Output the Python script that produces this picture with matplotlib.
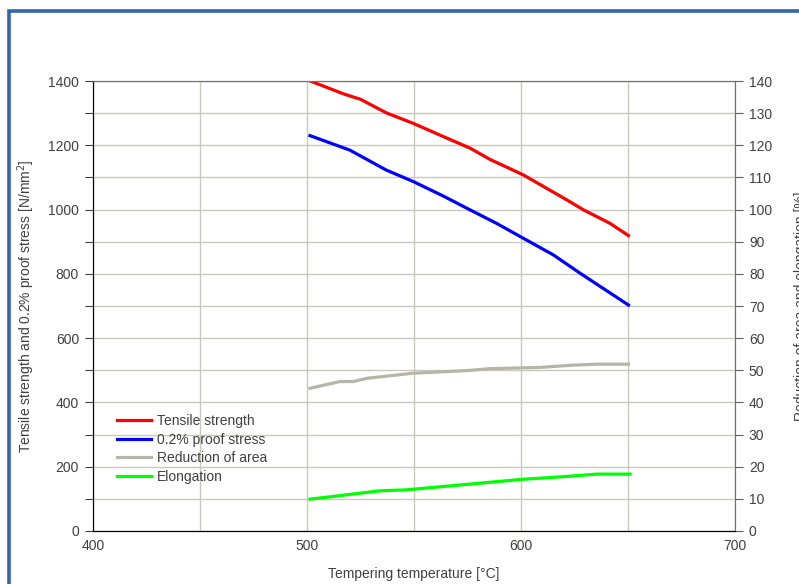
import numpy as np
import matplotlib.pyplot as plt
from matplotlib.patches import Rectangle
from matplotlib.ticker import MultipleLocator

plt.rcParams['font.family'] = ['Liberation Sans', 'DejaVu Sans']

# data
t_tensile = [501.5, 517, 525, 537, 549.7, 563.7, 576.2, 585.5, 601, 621.4, 629.2, 641.6, 650.2]
tensile = [1400, 1360, 1343, 1301, 1268, 1227, 1191, 1156, 1108, 1030, 999, 957, 919]

t_proof = [501.4, 520, 537, 549.7, 563.7, 576.2, 588.6, 601, 615.1, 627.6, 650.2]
proof = [1230, 1185, 1123, 1087, 1042, 999, 957, 911, 859, 802, 703]

t_area = [501.4, 515.4, 521.6, 527.9, 549.7, 574.6, 585.5, 608.9, 624.4, 635.4, 650.2]
area = [44.4, 46.5, 46.5, 47.5, 49.1, 49.9, 50.5, 50.9, 51.6, 51.9, 51.9]

t_elong = [501.4, 534, 546.4, 576.2, 601, 619.8, 635.4, 651]
elong = [9.9, 12.5, 12.8, 14.6, 16.1, 16.9, 17.7, 17.7]

txt = '#404040'

fig = plt.figure(figsize=(7.99, 5.84), dpi=100)
fig.patches.append(Rectangle((9 / 799, -0.1), 2.0, 1.1 - 11 / 584, transform=fig.transFigure,
                             fill=False, edgecolor='#3465a4', lw=2.6, clip_on=False))

ax = fig.add_axes([93 / 799, 1 - 531 / 584, 642 / 799, 450 / 584])
ax2 = ax.twinx()

l1, = ax.plot(t_tensile, tensile, color='#ff0000', lw=2.3, label='Tensile strength')
l2, = ax.plot(t_proof, proof, color='#0000ff', lw=2.3, label='0.2% proof stress')
l3, = ax2.plot(t_area, area, color='#b5b5a8', lw=2.3, label='Reduction of area')
l4, = ax2.plot(t_elong, elong, color='#00ff00', lw=2.3, label='Elongation')

ax.set_xlim(400, 700)
ax.set_ylim(0, 1400)
ax2.set_ylim(0, 140)

ax.xaxis.set_major_locator(MultipleLocator(100))
ax.xaxis.set_minor_locator(MultipleLocator(50))
ax.yaxis.set_major_locator(MultipleLocator(200))
ax.yaxis.set_minor_locator(MultipleLocator(100))
ax2.yaxis.set_major_locator(MultipleLocator(10))

ax.grid(True, which='both', color='#c8c8bc', lw=1.0)
ax.set_axisbelow(True)

ax.tick_params(axis='x', which='both', length=0, pad=6, labelsize=10, labelcolor=txt)
ax.tick_params(axis='y', which='both', length=6, width=0.8, color='#404040',
               labelsize=10, labelcolor=txt, pad=4)
ax2.tick_params(axis='y', length=6, width=0.8, color='#606060',
                labelsize=10, labelcolor=txt, pad=4)

for a in (ax, ax2):
    a.spines['left'].set_color('#000000')
    a.spines['bottom'].set_color('#000000')
    a.spines['top'].set_color('#707070')
    a.spines['right'].set_color('#707070')

ax.set_xlabel('Tempering temperature [°C]', fontsize=10, color=txt, labelpad=10)
ax.set_ylabel('Tensile strength and 0.2% proof stress [N/mm$^2$]', fontsize=10, color=txt)
ax.yaxis.set_label_coords(-0.088, 0.5)
ax2.set_ylabel('Reduction of area and elongation [%]', fontsize=10, color=txt)
ax2.yaxis.set_label_coords(1.092, 0.5)

leg = ax.legend(handles=[l1, l2, l3, l4], loc='upper left', bbox_to_anchor=(0.037, 0.26),
                frameon=False, fontsize=10, handlelength=2.45, handletextpad=0.45,
                labelspacing=0.33, borderpad=0, borderaxespad=0)
for t in leg.get_texts():
    t.set_color(txt)

fig.savefig('out.png', dpi=100)
